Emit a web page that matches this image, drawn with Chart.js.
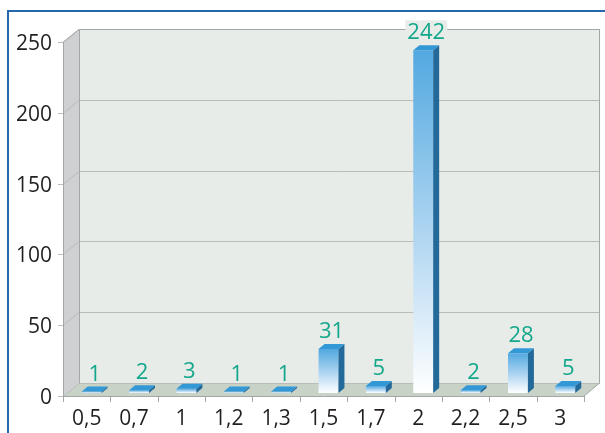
<!DOCTYPE html>
<html>
<head>
<meta charset="utf-8">
<script src="https://cdn.jsdelivr.net/npm/chart.js@4/dist/chart.umd.min.js"></script>
<style>
  html, body { margin: 0; padding: 0; background: #fff; }
  canvas { display: block; }
</style>
</head>
<body>
<canvas id="chart" width="605" height="433"></canvas>
<script>
// data
const categories = ['0,5', '0,7', '1', '1,2', '1,3', '1,5', '1,7', '2', '2,2', '2,5', '3'];
const counts = [1, 2, 3, 1, 1, 31, 5, 242, 2, 28, 5];
const yTicks = [0, 50, 100, 150, 200, 250];

// 3D look
const DEPTH_X = 16, DEPTH_Y = 13;     // wall depth
const BAR_SHIFT_X = 5, BAR_SHIFT_Y = 3; // bars sit a little behind the front plane
const BAR_DX = 6, BAR_DY = 5;         // bar thickness

const wallPlugin = {
    id: 'walls',
    beforeDraw(chart) {
        const ctx = chart.ctx;
        const a = chart.chartArea;
        const y = chart.scales.y;
        const L = a.left, R = a.right, T = a.top, B = a.bottom;
        ctx.save();
        ctx.fillStyle = '#fff';
        ctx.fillRect(0, 0, chart.width, chart.height);

        // outer blue frame (top and left only, rest is cropped)
        ctx.strokeStyle = '#2469ad';
        ctx.lineWidth = 2;
        ctx.beginPath();
        ctx.moveTo(605, 11); ctx.lineTo(8, 11); ctx.lineTo(8, 433);
        ctx.stroke();

        // back wall
        ctx.fillStyle = '#e8ece9';
        ctx.fillRect(L + DEPTH_X, T - DEPTH_Y, R - L, B - T);
        // left wall
        ctx.fillStyle = '#cfd0d2';
        ctx.beginPath();
        ctx.moveTo(L, T); ctx.lineTo(L + DEPTH_X, T - DEPTH_Y);
        ctx.lineTo(L + DEPTH_X, B - DEPTH_Y); ctx.lineTo(L, B);
        ctx.closePath(); ctx.fill();
        // floor
        ctx.fillStyle = '#c8d2c7';
        ctx.beginPath();
        ctx.moveTo(L, B); ctx.lineTo(L + DEPTH_X, B - DEPTH_Y);
        ctx.lineTo(R + DEPTH_X, B - DEPTH_Y); ctx.lineTo(R, B);
        ctx.closePath(); ctx.fill();

        // grid lines
        ctx.lineWidth = 1;
        ctx.strokeStyle = '#b8bcba';
        yTicks.forEach(v => {
            const py = Math.round(y.getPixelForValue(v)) + 0.5;
            ctx.beginPath();
            ctx.moveTo(L - 5, py);
            ctx.lineTo(L, py);
            ctx.lineTo(L + DEPTH_X, py - DEPTH_Y);
            ctx.lineTo(R + DEPTH_X, py - DEPTH_Y);
            ctx.stroke();
        });

        // wall edges
        ctx.strokeStyle = '#a5a7a7';
        ctx.beginPath();
        ctx.moveTo(L + 0.5, T); ctx.lineTo(L + 0.5, B);
        ctx.moveTo(L + DEPTH_X + 0.5, T - DEPTH_Y); ctx.lineTo(L + DEPTH_X + 0.5, B - DEPTH_Y);
        ctx.moveTo(L, T + 0.5); ctx.lineTo(L + DEPTH_X, T - DEPTH_Y + 0.5);
        ctx.lineTo(R + DEPTH_X, T - DEPTH_Y + 0.5);
        ctx.moveTo(R + DEPTH_X - 0.5, T - DEPTH_Y); ctx.lineTo(R + DEPTH_X - 0.5, B - DEPTH_Y);
        ctx.lineTo(R, B);
        ctx.moveTo(L, B + 0.5); ctx.lineTo(R, B + 0.5);
        ctx.stroke();

        // category ticks below the floor
        const cw = (R - L) / categories.length;
        ctx.beginPath();
        for (let i = 0; i <= categories.length; i++) {
            const px = Math.round(L + i * cw) + 0.5;
            ctx.moveTo(px, B);
            ctx.lineTo(px, B + 6);
        }
        ctx.stroke();
        ctx.restore();
    },
    beforeDatasetsDraw(chart) {
        chart.ctx.save();
        chart.ctx.translate(BAR_SHIFT_X, -BAR_SHIFT_Y);
    },
    afterDatasetsDraw(chart) {
        const ctx = chart.ctx;
        const meta = chart.getDatasetMeta(0);
        meta.data.forEach(bar => {
            const left = bar.x - bar.width / 2, right = bar.x + bar.width / 2;
            const top = bar.y, base = bar.base;
            // side
            ctx.fillStyle = '#236a9b';
            ctx.beginPath();
            ctx.moveTo(right, top); ctx.lineTo(right + BAR_DX, top - BAR_DY);
            ctx.lineTo(right + BAR_DX, base - BAR_DY); ctx.lineTo(right, base);
            ctx.closePath(); ctx.fill();
            // top
            ctx.fillStyle = '#3398d6';
            ctx.beginPath();
            ctx.moveTo(left, top); ctx.lineTo(left + BAR_DX, top - BAR_DY);
            ctx.lineTo(right + BAR_DX, top - BAR_DY); ctx.lineTo(right, top);
            ctx.closePath(); ctx.fill();
        });
        ctx.restore();

        // value labels
        ctx.save();
        ctx.font = '22px "Open Sans"';
        ctx.textAlign = 'center';
        ctx.textBaseline = 'alphabetic';
        meta.data.forEach((bar, i) => {
            const cx = bar.x + BAR_SHIFT_X + BAR_DX / 2;
            const baseline = bar.y - BAR_SHIFT_Y - BAR_DY - 6;
            const txt = String(counts[i]);
            const w = ctx.measureText(txt).width + 4;
            ctx.fillStyle = '#e8ece9';
            ctx.fillRect(cx - w / 2, baseline - 19, w, 20);
            ctx.fillStyle = '#13a78b';
            ctx.fillText(txt, cx, baseline);
        });
        ctx.restore();
    }
};

new Chart(document.getElementById('chart'), {
    type: 'bar',
    data: {
        labels: categories,
        datasets: [{
            data: counts,
            barPercentage: 0.42,
            categoryPercentage: 1,
            borderWidth: 0,
            backgroundColor: (c) => {
                const chart = c.chart;
                if (!chart.chartArea || c.raw === undefined) return '#4ea6dd';
                const ys = chart.scales.y;
                const g = chart.ctx.createLinearGradient(0, ys.getPixelForValue(c.raw), 0, ys.getPixelForValue(0));
                g.addColorStop(0, '#52a9e0');
                g.addColorStop(0.5, '#a9d2f0');
                g.addColorStop(1, '#ffffff');
                return g;
            }
        }]
    },
    options: {
        responsive: false,
        animation: false,
        devicePixelRatio: 1,
        layout: { padding: { left: 0, right: 21, top: 42, bottom: 0 } },
        plugins: { legend: { display: false }, tooltip: { enabled: false } },
        scales: {
            x: {
                grid: { display: false, drawTicks: false },
                border: { display: false },
                ticks: { color: '#231f20', font: { family: 'Open Sans', size: 21 }, padding: 10, maxRotation: 0 },
                afterFit: (s) => { s.height = 37; }
            },
            y: {
                min: 0, max: 250,
                grid: { display: false, drawTicks: false },
                border: { display: false },
                ticks: { stepSize: 50, color: '#231f20', font: { family: 'Open Sans', size: 21 }, padding: 11, labelOffset: 2 },
                afterFit: (s) => { s.width = 63; }
            }
        }
    },
    plugins: [wallPlugin]
});
</script>
</body>
</html>
